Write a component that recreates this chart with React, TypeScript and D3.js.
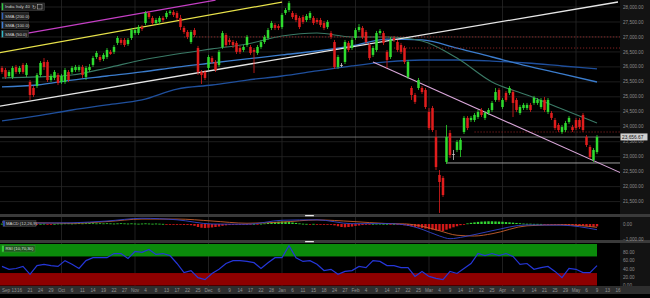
import React from "react";
import * as d3 from "d3";

const opens = [
  25965,25895,25695,25665,25995,25830,26065,25730,25495,25295,
  25360,25730,26165,26165,25560,25630,25730,25495,25495,25830,
  25830,25895,25895,25995,25665,25895,26065,26330,26330,26265,
  26330,26500,26500,26800,26900,26900,26765,26965,27130,27130,
  27330,27465,27800,27635,27465,27500,27635,27665,27800,27830,
  27800,27635,27300,27165,26830,27230,26630,25830,25830,25965,
  26295,26165,26065,26665,27065,26900,26830,26800,26630,26565,
  26730,26665,26565,26465,26665,26830,26965,27300,27400,27365,
  27330,27800,27900,27800,27735,27635,27665,27565,27635,27635,
  27565,27565,27465,27330,27130,26830,25995,26065,26165,26800,
  26630,26965,27230,27300,27165,26730,26400,26565,27130,27130,
  26500,26330,26965,26830,26730,26630,25665,25295,25060,25295,
  25295,25230,24495,24625,23660,22390,22290,22825,23790,23090,
  23225,23225,23825,24295,24225,24225,24325,24560,24295,24460,
  24560,24895,25230,24660,25130,25130,25160,24895,24460,24625,
  24625,24730,24795,24795,24660,24895,24495,24460,24225,24060,
  23825,23890,24160,23990,24225,24225,24395,23660,23325,22890,
  23155,
];
const closes = [
  25830,25665,25830,25965,25830,25965,25830,26065,25060,25060,
  25730,26130,25995,25560,25695,25830,25460,25695,25895,25560,
  25965,25995,25995,25730,25965,25995,26295,26465,26230,26400,
  26565,26430,26665,26965,26800,26730,26900,27230,27230,27330,
  27265,27800,27665,27465,27565,27635,27565,27800,27845,27735,
  27635,27330,27165,27000,27165,27065,25830,25730,25630,26330,
  26165,25895,26500,27130,26730,26830,26730,26500,26500,26665,
  27000,26465,26500,26665,26830,27000,27230,27465,27300,27300,
  27735,27900,28130,27665,27565,27330,27500,27700,27800,27465,
  27500,27400,27300,27500,27000,25995,26330,26030,26830,26565,
  26900,27230,27330,27000,26830,26295,26630,27130,27200,26800,
  26230,26900,26900,26565,26500,26165,26165,25060,24830,25560,
  25160,24660,23960,23890,22655,22155,21720,23660,23055,23070,
  23490,23560,24295,23960,24295,24395,24495,24395,24460,24560,
  24795,25160,24895,24895,24895,25295,24795,24560,24660,24730,
  24730,24560,24960,24895,24895,24560,24895,24295,23960,23890,
  23990,24125,24295,23890,23960,23990,23890,23390,22990,23225,
  23656.67,
];
const highs = [
  26030,25965,25895,26030,26065,26030,26130,26130,25560,25360,
  25795,26195,26295,26230,25765,25895,25795,25765,25965,25895,
  26030,26065,26065,26065,26030,26095,26365,26530,26400,26465,
  26630,26565,26730,27030,26965,26965,26965,27300,27300,27400,
  27400,27865,27865,27700,27635,27700,27700,27865,27900,27900,
  27865,27735,27365,27230,27230,27300,26700,25895,25895,26400,
  26365,26230,26565,27200,27130,26965,26900,26865,26700,26730,
  27065,26730,26630,26730,26900,27065,27300,27535,27465,27430,
  27800,27965,28200,27865,27800,27700,27735,27765,27865,27700,
  27635,27635,27535,27565,27200,26900,26400,26130,26900,26865,
  26965,27300,27430,27365,27230,26800,26700,27200,27265,27200,
  26565,27000,27030,26900,26800,26700,26230,25360,25130,25630,
  25360,25295,24625,24695,23890,22555,22355,24060,23890,23225,
  23560,23625,24360,24360,24360,24460,24560,24625,24525,24625,
  24860,25295,25295,24960,25195,25360,25230,24960,24730,24795,
  24795,24795,25030,24960,24960,24995,24960,24525,24295,24125,
  24060,24195,24360,24060,24295,24295,24460,23725,23390,23290,
  23725,
];
const lows = [
  25765,25595,25630,25595,25765,25765,25765,25665,24895,24995,
  25295,25665,25895,25495,25495,25560,25395,25430,25430,25495,
  25765,25830,25830,25630,25560,25830,25995,26265,26165,26195,
  26265,26400,26430,26730,26730,26665,26700,26900,27065,27065,
  27200,27400,27600,27400,27400,27430,27500,27600,27735,27665,
  27565,27230,27100,26930,26765,27000,25730,25430,25560,25895,
  26095,25830,25995,26600,26665,26730,26630,26430,26430,26500,
  26665,26400,25795,26400,26600,26765,26900,27230,27230,27230,
  27265,27735,27830,27600,27500,27265,27430,27500,27565,27400,
  27430,27330,27230,27265,26930,25930,25930,25995,26095,26500,
  26565,26900,27165,26930,26765,26230,26330,26500,27065,26730,
  25965,26265,26830,26500,26430,26095,25595,24895,24760,25230,
  25095,24595,23890,23825,22555,21120,21655,22755,22955,22890,
  23155,22990,23760,23890,24160,24160,24260,24325,24225,24395,
  24495,24830,24830,24595,24830,25060,24325,24495,24395,24560,
  24560,24495,24730,24730,24595,24495,24425,24225,23890,23825,
  23760,23825,24095,23825,23890,23925,23825,23325,22925,22825,
  23090,
];

// moving averages, read at every 10th candle
const smaIdx = [0,10,20,30,40,50,60,70,80,90,100,110,120,130,140,150,160,170];
const sma50 = [25630,25665,25730,25965,26230,26430,26600,26765,27030,27130,27000,27000,26865,26295,25495,25060,24595,24125];
const sma100 = [25330,25395,25560,25695,25830,25995,26130,26265,26400,26530,26700,26930,26900,26630,26330,26030,25765,25495];
const sma200 = [24195,24360,24560,24730,24895,25260,25395,25560,25695,25865,26030,26165,26230,26230,26195,26130,26030,25930];

// MACD
const macdHist = [
  20,-20,15,-15,10,-10,20,-15,-30,-40,
  -20,10,20,-20,-10,10,30,30,40,40,
  30,40,50,40,50,60,50,40,50,40,
  50,40,30,40,50,40,30,40,30,20,
  30,40,30,20,30,20,10,-10,-20,-30,
  -40,-50,-60,-60,-80,-120,-200,-250,-270,-250,
  -230,-200,-170,-120,-90,-70,-60,-50,-40,-30,
  -20,-10,10,-10,20,40,70,100,130,150,
  160,150,130,100,70,40,20,10,-10,10,
  -10,-20,-20,-30,-30,-90,-150,-200,-220,-200,
  -170,-130,-100,-70,-50,-20,10,20,20,10,
  10,-10,10,-20,-60,-90,-130,-160,-200,-230,
  -260,-300,-340,-380,-420,-450,-470,-380,-300,-220,
  -150,-80,-20,40,80,110,140,160,170,180,
  180,170,160,150,130,110,90,70,50,30,
  20,20,10,10,5,-5,-10,-20,-30,-50,
  -70,-80,-90,-90,-100,-110,-120,-140,-170,-180,
  -160,
];
const macdIdx = [0,10,20,30,40,50,60,70,80,90,100,110,115,120,125,128,132,140,150,160,170];
const macdLine = [150,60,80,200,380,280,0,-20,250,280,20,30,-50,-350,-800,-980,-850,-450,-60,-80,-380];
const signalIdx = [0,10,20,30,40,50,60,70,80,90,100,110,115,120,125,130,135,140,150,160,170];
const signalLine = [120,80,50,160,330,330,200,50,130,270,170,30,10,-150,-450,-750,-800,-650,-120,-50,-220];

// RSI, read at every 2nd candle
const rsiStep = 2;
const rsiValues = [
  46,39,41,46,27,48,51,48,46,60,
  51,41,60,67,67,67,77,77,65,82,
  80,87,75,77,72,53,31,36,19,14,
  29,39,53,60,60,58,55,41,55,67,
  67,96,67,58,60,51,36,39,27,34,
  36,46,43,60,58,48,48,43,43,22,
  34,22,17,14,34,29,41,53,77,72,
  77,72,77,70,51,53,39,43,46,34,
  19,41,39,31,31,48,
];

const xLabels = ["Sep 13","16","21","24","29","Oct","6","11","14","19","22","27","Nov","4","8","13","17","22","25","Dec","6","9","14","17","22","28","Jan","6","11","15","18","24","27","Feb","4","9","14","17","22","25","Mar","4","9","14","17","22","25","Apr","4","9","14","21","25","29","May","6","9","13","16"];
const monthNames = ["Oct","Nov","Dec","Jan","Feb","Mar","Apr","May"];
const priceTicks = [28000,27500,27000,26500,26000,25500,25000,24500,24000,23500,23000,22500,22000,21500];
const macdTicks = [0,-1000];
const rsiTicks = [80,60,40,20,0];

// drawn objects: [candle index, price]
const magentaLine = [[7.4, 27130],[61, 28230]];
const yellowLine = [[-1, 26470],[80, 28165]];
const whiteLine = [[-1, 24680],[176, 28167]];
const pinkLine = [[106, 26160],[177, 22450]];
const supportLevel = 22790, supportFrom = 127;
const dottedLevels = [27000, 26630, 23825];
const dottedFrom = [52, 112, 135];

const FONT = "Liberation Sans, Arial, sans-serif";

export default function App() {
  const PR = 620;
  const x = d3.scaleLinear().domain([0, 170]).range([2, 597]);
  const yM = d3.scaleLinear().domain([21500, 28000]).range([201.6, 7]);
  const yMacd = d3.scaleLinear().domain([-1000, 0]).range([239, 224]);
  const yRsi = d3.scaleLinear().domain([0, 100]).range([285.5, 244]);
  const fmt = d3.format(",.2f");
  const last = closes[closes.length - 1];
  const lastX = x(closes.length - 1);

  const smaPath = (vals: number[]) =>
    d3.line<number>().x((_, i) => x(smaIdx[i])).y((d) => yM(d)).curve(d3.curveMonotoneX)(vals) || "";
  const macdPath = (idx: number[], vals: number[]) =>
    d3.line<number>().x((_, i) => x(idx[i])).y((d) => yMacd(d)).curve(d3.curveMonotoneX)(vals) || "";
  const rsiPath = d3.line<number>().x((_, i) => x(i * rsiStep)).y((d) => yRsi(d))(rsiValues) || "";
  const seg = (l: number[][]) => ({ x1: x(l[0][0]), y1: yM(l[0][1]), x2: x(l[1][0]), y2: yM(l[1][1]) });

  const labelX = (k: number) => x(3 * k + 2);
  const monthXs = xLabels.map((l, k) => (monthNames.includes(l) ? labelX(k) : null)).filter((v) => v !== null) as number[];

  return (
    <svg width={650} height={298} style={{ position: "fixed", left: 0, top: 0, background: "#000" }} fontFamily={FONT}>
      <defs>
        <clipPath id="mainClip"><rect x={0} y={0} width={PR} height={214} /></clipPath>
      </defs>
      <rect x={0} y={0} width={650} height={298} fill="#000" />
      {/* axis column */}
      <rect x={PR} y={0} width={30} height={286} fill="#131313" />

      {/* grid */}
      {priceTicks.map((p) => (
        <line key={p} x1={0} x2={PR} y1={yM(p)} y2={yM(p)} stroke="#262626" strokeWidth={0.8} />
      ))}
      {monthXs.map((mx, i) => (
        <line key={i} x1={mx} x2={mx} y1={0} y2={286} stroke="#272727" strokeWidth={0.8} />
      ))}

      <g clipPath="url(#mainClip)">
        {/* moving averages */}
        <path d={smaPath(sma200)} fill="none" stroke="#1f4f9c" strokeWidth={1.3} />
        <path d={smaPath(sma100)} fill="none" stroke="#3b7ccc" strokeWidth={1.3} />
        <path d={smaPath(sma50)} fill="none" stroke="#3a7a66" strokeWidth={1.1} />
        {/* drawn levels */}
        {dottedLevels.map((p, i) => (
          <line key={i} x1={x(dottedFrom[i])} x2={PR} y1={yM(p)} y2={yM(p)} stroke="#a52a2a" strokeWidth={0.8} strokeDasharray="1.2,1.8" />
        ))}
        <line x1={0} x2={PR} y1={yM(last)} y2={yM(last)} stroke="#8a8a8a" strokeWidth={0.8} />
        <line x1={x(supportFrom)} x2={PR} y1={yM(supportLevel)} y2={yM(supportLevel)} stroke="#b0b0b0" strokeWidth={0.9} />
        {/* trend lines */}
        <line {...seg(whiteLine)} stroke="#e6e6e6" strokeWidth={1.3} />
        <line {...seg(yellowLine)} stroke="#e8e24a" strokeWidth={1.3} />
        <line {...seg(magentaLine)} stroke="#c53fc5" strokeWidth={1.2} />
        <line {...seg(pinkLine)} stroke="#d9a6d9" strokeWidth={1.1} />
        {/* candles */}
        {closes.map((c, i) => {
          const o = opens[i];
          const doji = Math.abs(c - o) < 36;
          const col = doji ? "#c8c8c8" : c > o ? "#2fdc2f" : "#e11d1d";
          const cx = x(i);
          const yT = yM(Math.max(o, c));
          const yB = yM(Math.min(o, c));
          return (
            <g key={i}>
              <line x1={cx} x2={cx} y1={yM(highs[i])} y2={yM(lows[i])} stroke={col} strokeWidth={0.8} />
              <rect x={cx - 1.25} y={yT} width={2.5} height={Math.max(0.9, yB - yT)} fill={col} />
            </g>
          );
        })}
      </g>

      {/* price axis labels */}
      {priceTicks.map((p) => (
        <text key={p} x={623} y={yM(p) + 1.6} fontSize={4.6} fill="#8c8c8c">{fmt(p)}</text>
      ))}
      <rect x={620.5} y={yM(last) - 3.6} width={27} height={7} fill="#cfcfcf" />
      <text x={622} y={yM(last) + 1.7} fontSize={4.8} fill="#111">{fmt(last)}</text>

      {/* legend */}
      <rect x={1.5} y={3} width={43} height={7.5} fill="#232323" stroke="#4a4a4a" strokeWidth={0.5} />
      <rect x={1.8} y={3.3} width={1.4} height={6.9} fill="#2ecc40" />
      <text x={5} y={8.3} fontSize={4.4} fill="#d0d0d0">India Italy 40</text>
      <text x={32} y={8.6} fontSize={5} fill="#bbb">↻</text>
      <rect x={37.5} y={4.5} width={4.5} height={4.5} fill="none" stroke="#bbb" strokeWidth={0.5} />
      {[["SMA (200.0)", "#2f5fb8", 12.5], ["SMA (100.0)", "#3a7bd5", 21.5], ["SMA (50.0)", "#2fb8c8", 30.5]].map(([t, c, yy]) => (
        <g key={t as string}>
          <rect x={1.5} y={yy as number} width={27} height={7} fill="#232323" stroke="#4a4a4a" strokeWidth={0.5} />
          <rect x={1.8} y={(yy as number) + 0.3} width={1.4} height={6.4} fill={c as string} />
          <text x={5} y={(yy as number) + 5} fontSize={4.4} fill="#d0d0d0">{t}</text>
        </g>
      ))}

      {/* separators */}
      <rect x={0} y={214} width={650} height={3} fill="#3a3a3a" />
      <rect x={305} y={215} width={9} height={1.3} rx={0.6} fill="#e8e8e8" />
      <rect x={0} y={240} width={650} height={3} fill="#3a3a3a" />
      <rect x={305} y={241} width={9} height={1.3} rx={0.6} fill="#e8e8e8" />

      {/* MACD */}
      {macdHist.map((v, i) => {
        const y0 = yMacd(0), y1 = yMacd(v);
        return (
          <rect key={i} x={x(i) - 1.2} y={Math.min(y0, y1)} width={2.4} height={Math.max(0.8, Math.abs(y1 - y0))}
            fill={v >= 0 ? "#33d633" : "#d41818"} />
        );
      })}
      <path d={macdPath(signalIdx, signalLine)} fill="none" stroke="#c8602e" strokeWidth={0.9} />
      <path d={macdPath(macdIdx, macdLine)} fill="none" stroke="#3344cc" strokeWidth={0.9} />
      <rect x={3} y={220.5} width={33} height={6} fill="#262626" stroke="#4a4a4a" strokeWidth={0.5} />
      <rect x={3.3} y={220.8} width={1.4} height={5.4} fill="#3355e0" />
      <text x={6} y={225.3} fontSize={4.3} fill="#d0d0d0">MACD (12,26,9)</text>
      {macdTicks.map((v) => (
        <text key={v} x={623} y={yMacd(v) + 1.6} fontSize={4.6} fill="#8c8c8c">{fmt(v)}</text>
      ))}

      {/* RSI */}
      <rect x={0} y={yRsi(100)} width={lastX} height={yRsi(70) - yRsi(100)} fill="#0b8a0b" />
      <rect x={0} y={yRsi(30)} width={lastX} height={yRsi(0) - yRsi(30)} fill="#8e0000" />
      <path d={rsiPath} fill="none" stroke="#2536d8" strokeWidth={1.2} />
      <rect x={2} y={245.5} width={33} height={6.5} fill="#1f5a1f" stroke="#3c8c3c" strokeWidth={0.5} />
      <rect x={2.3} y={245.8} width={1.4} height={5.9} fill="#3cff3c" />
      <text x={5.5} y={250.4} fontSize={4.3} fill="#e0e0e0">RSI (10,70,30)</text>
      {rsiTicks.map((v) => (
        <text key={v} x={623} y={yRsi(v) + 1.6} fontSize={4.6} fill="#8c8c8c">{fmt(v)}</text>
      ))}

      {/* x axis */}
      <rect x={0} y={286} width={650} height={8} fill="#2e2e2e" />
      {xLabels.map((l, k) => (
        <text key={k} x={k === 0 ? 2 : labelX(k)} y={291.8} fontSize={4.6} fill="#8e8e8e"
          textAnchor={k === 0 ? "start" : "middle"}>{l}</text>
      ))}
    </svg>
  );
}
